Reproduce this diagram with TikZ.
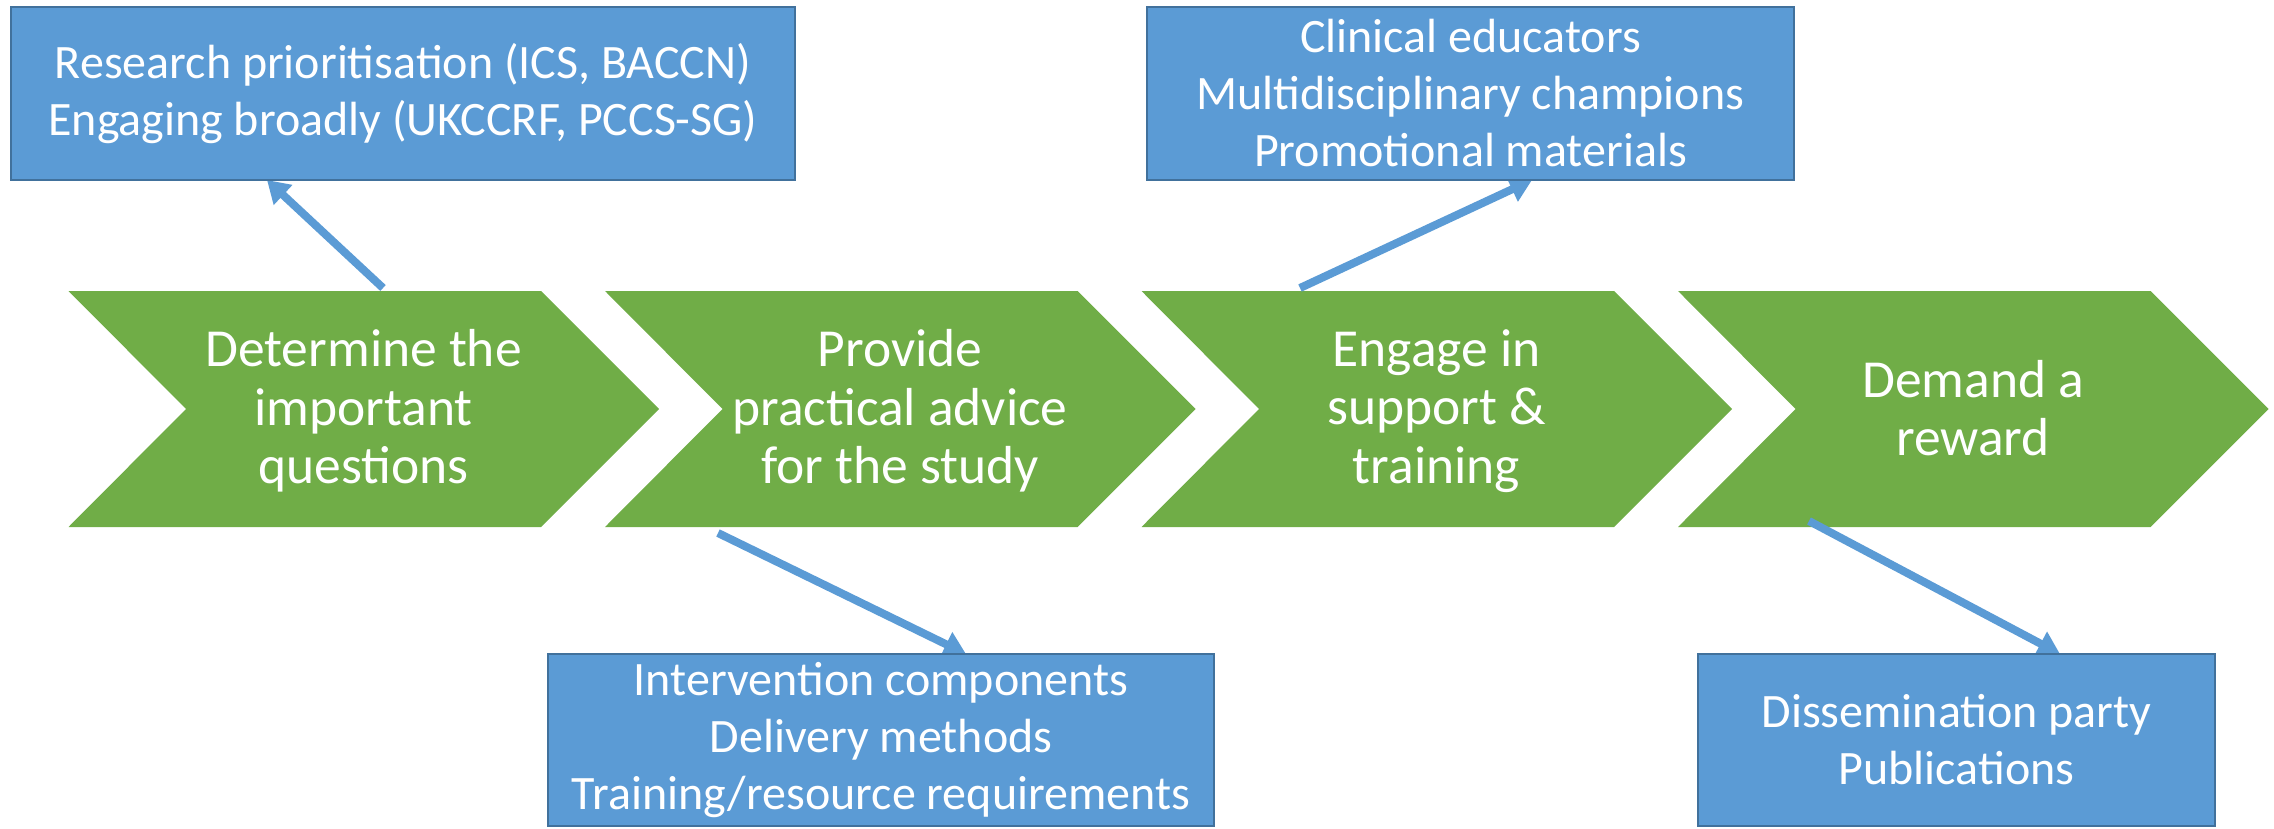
\documentclass[tikz,border=0pt]{standalone}
\usepackage{fontspec}
\setmainfont{Carlito}
\usetikzlibrary{arrows.meta}
\definecolor{cgreen}{HTML}{70AD47}
\definecolor{cblue}{HTML}{5B9BD5}
\definecolor{cborder}{HTML}{41719C}
\begin{document}
\begin{tikzpicture}[x=1pt,y=-1pt,
  chev/.style={fill=cgreen},
  chevtext/.style={text=white, font=\fontsize{53.5}{58.5}\selectfont, align=center, inner sep=0pt},
  bluebox/.style={fill=cblue, draw=cborder, line width=2.5pt, text=white,
    font=\fontsize{48}{57}\selectfont, align=center, inner sep=0pt},
  link/.style={draw=cblue, line width=8pt, -{Triangle[length=22pt,width=26pt]}}]
\useasboundingbox (0,0) rectangle (2274,829);

% chevrons
\fill[chev] (68.5,291) -- (541,291) -- (659,409) -- (541,527) -- (68.5,527) -- (186,409) -- cycle;
\fill[chev] (605,291) -- (1077.5,291) -- (1195.5,409) -- (1077.5,527) -- (605,527) -- (722.5,409) -- cycle;
\fill[chev] (1141.5,291) -- (1614,291) -- (1732,409) -- (1614,527) -- (1141.5,527) -- (1259,409) -- cycle;
\fill[chev] (1678,291) -- (2150.5,291) -- (2268.5,409) -- (2150.5,527) -- (1678,527) -- (1795.5,409) -- cycle;

\node[chevtext] (c1) at (363.5,411) {Determine the\\important\\questions};
\node[chevtext] (c2) at (900,411) {Provide\\practical advice\\for the study};
\node[chevtext] (c3) at (1436.5,411) {Engage in\\support \&\\training};
\node[chevtext] (c4) at (1973,408) {Demand a\\reward};

% connector end points
\coordinate (s1) at (383,288);
\coordinate (t1) at (267,180);
\coordinate (s2) at (1300,288);
\coordinate (t2) at (1532,180);
\coordinate (s3) at (718,533);
\coordinate (t3) at (966,654);
\coordinate (s4) at (1809,521);
\coordinate (t4) at (2060,654);

\draw[link] (s1) -- (t1);
\draw[link] (s2) -- (t2);
\draw[link] (s3) -- (t3);
\draw[link] (s4) -- (t4);

% boxes
\node[bluebox, minimum width=784pt, minimum height=173pt] (b1) at (403,93.5)
  {Research prioritisation (ICS, BACCN)\\Engaging broadly (UKCCRF, PCCS-SG)};
\node[bluebox, minimum width=647pt, minimum height=173pt] (b2) at (1470.5,93.5)
  {Clinical educators\\Multidisciplinary champions\\Promotional materials};
\node[bluebox, minimum width=666pt, minimum height=172pt] (b3) at (881,740)
  {Intervention components\\Delivery methods\\Training/resource requirements};
\node[bluebox, minimum width=517pt, minimum height=172pt] (b4) at (1956.5,740)
  {Dissemination party\\Publications};
\end{tikzpicture}
\end{document}
